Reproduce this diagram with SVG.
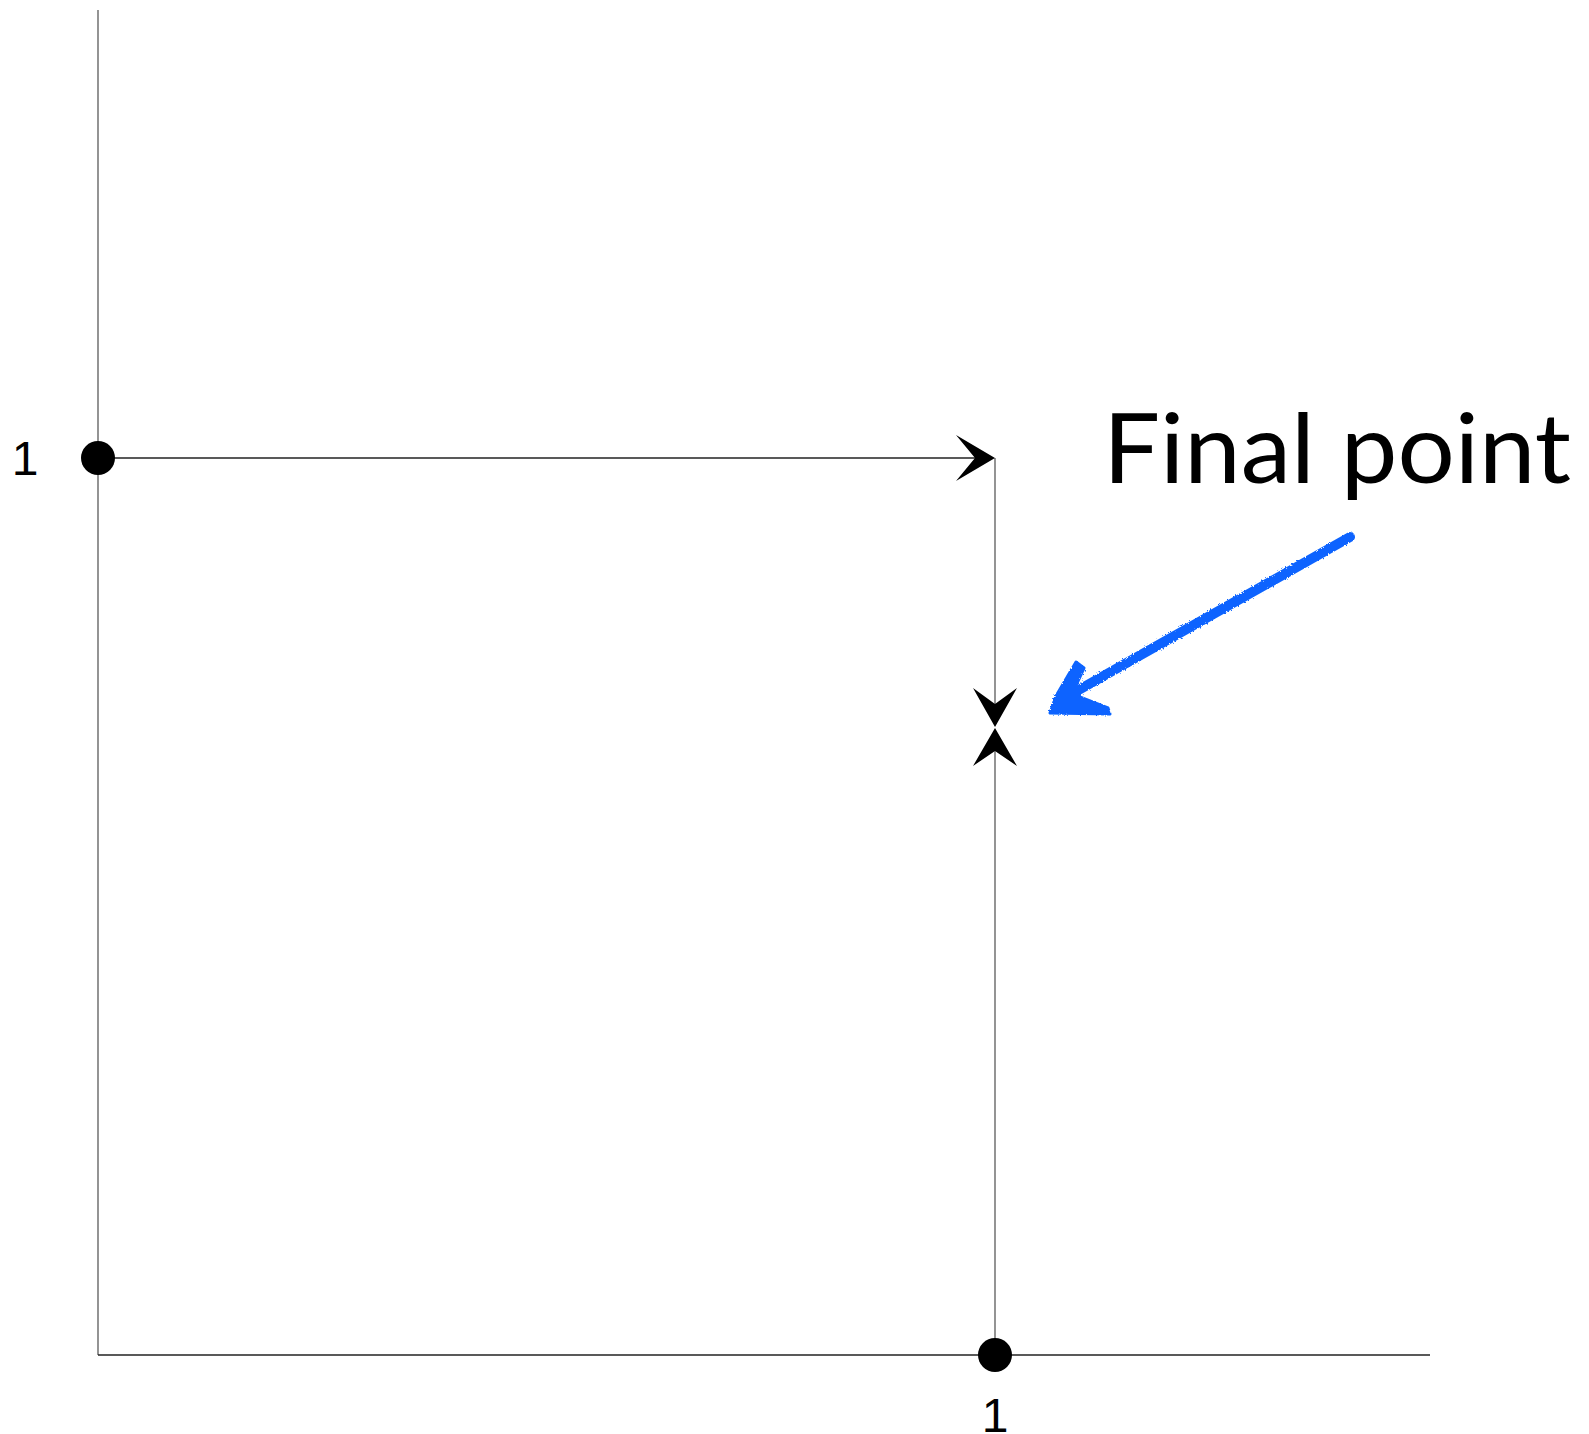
<svg xmlns="http://www.w3.org/2000/svg" width="1589" height="1434" viewBox="0 0 1589 1434">
<style>
.ax{stroke:#666;stroke-width:1.4;fill:none}
.hz{stroke:#222;stroke-width:1.4;fill:none}
.head{fill:#000;stroke:none}
.dot{fill:#000}
.big{font-family:Lato,"Open Sans",sans-serif;font-size:97px;fill:#000}
.blue{stroke:#0a64ff;fill:none;stroke-width:10;stroke-linecap:round}
</style>
<defs>
<filter id="rough" x="-10%" y="-10%" width="120%" height="120%">
<feTurbulence type="fractalNoise" baseFrequency="0.6" numOctaves="2" result="n"/>
<feDisplacementMap in="SourceGraphic" in2="n" scale="3"/>
</filter>
</defs>
<g id="connectors">
<line class="ax" x1="98" y1="10" x2="98" y2="1355"/>
<line class="hz" x1="98" y1="1355" x2="1430" y2="1355"/>
<line class="hz" x1="98" y1="458" x2="985" y2="458"/>
<line class="ax" x1="995" y1="458" x2="995" y2="710"/>
<line class="ax" x1="995" y1="745" x2="995" y2="1355"/>
<polygon class="head" points="995,458 956,435 975,458 956,481"/>
<polygon class="head" points="995,727 973,688 995,704 1017,688"/>
<polygon class="head" points="995,728 973,766 995,751 1017,766"/>
</g>
<g id="node-start">
<circle class="dot" cx="98" cy="458" r="17"/>
<text x="25" y="475" text-anchor="middle" font-family="'Liberation Sans', sans-serif" font-size="48" fill="#000">1</text>
</g>
<g id="node-end">
<circle class="dot" cx="995" cy="1355" r="17"/>
<text x="995" y="1432" text-anchor="middle" font-family="'Liberation Sans', sans-serif" font-size="48" fill="#000">1</text>
</g>
<g id="final-label">
<text class="big" x="1103" y="483" textLength="468" lengthAdjust="spacingAndGlyphs">Final point</text>
<g filter="url(#rough)">
<line class="blue" x1="1350" y1="537" x2="1068" y2="696"/>
<polygon points="1076,662 1084,668 1072,694 1108,708 1110,714 1050,713 1056,696" fill="#0a64ff" stroke="#0a64ff" stroke-width="3" stroke-linejoin="round"/>
</g>
</g>
</svg>
